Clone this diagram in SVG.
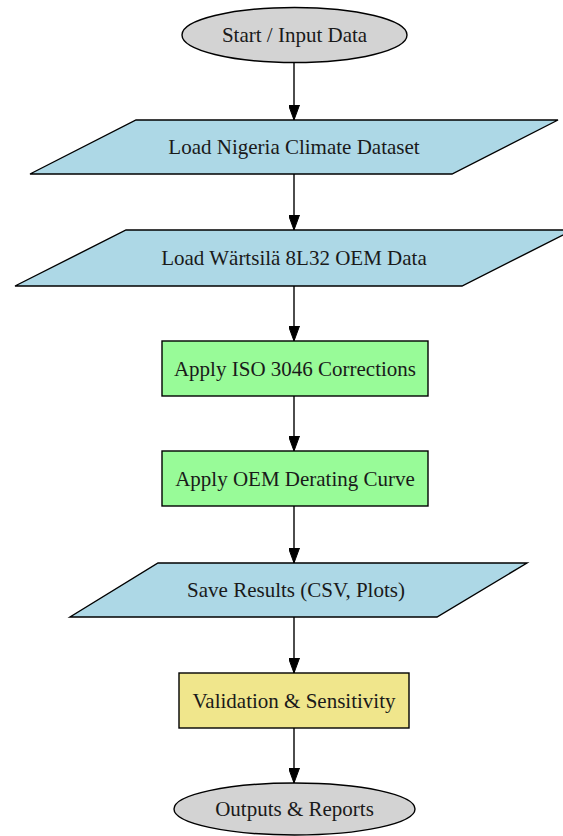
<svg xmlns="http://www.w3.org/2000/svg" width="563" height="836" viewBox="0 0 563 836">
  <style>
    .shape { stroke: #000; stroke-width: 1.4; }
    .term { fill: #d3d3d3; }
    .io { fill: #add8e6; }
    .proc { fill: #98fb98; }
    .check { fill: #f0e68c; }
    .label { font-family: "Liberation Serif", "Times New Roman", serif; font-size: 21px; fill: #1a1a1a; text-anchor: middle; }
    .edge { stroke: #000; stroke-width: 1.4; fill: none; }
  </style>
  <defs>
    <marker id="arrow" markerWidth="15" markerHeight="11" refX="15" refY="5.5" orient="auto" markerUnits="userSpaceOnUse">
      <path d="M0,0 L15,5.5 L0,11 Z" fill="#000" stroke="#000" stroke-width="1"/>
    </marker>
  </defs>
  <rect width="563" height="836" fill="#fff"/>

  <g id="connectors">
    <line class="edge" x1="294" y1="63" x2="294" y2="120" marker-end="url(#arrow)"/>
    <line class="edge" x1="294" y1="174" x2="294" y2="230" marker-end="url(#arrow)"/>
    <line class="edge" x1="294" y1="286" x2="294" y2="341" marker-end="url(#arrow)"/>
    <line class="edge" x1="294" y1="396" x2="294" y2="451" marker-end="url(#arrow)"/>
    <line class="edge" x1="294" y1="506" x2="294" y2="563" marker-end="url(#arrow)"/>
    <line class="edge" x1="294" y1="617" x2="294" y2="673" marker-end="url(#arrow)"/>
    <line class="edge" x1="294" y1="728" x2="294" y2="783" marker-end="url(#arrow)"/>
  </g>

  <g id="start">
    <ellipse class="shape term" cx="294.5" cy="35" rx="112.5" ry="27.5"/>
    <text class="label" x="294.5" y="42">Start / Input Data</text>
  </g>

  <g id="load-climate">
    <polygon class="shape io" points="136,120 558,120 452,174 30,174"/>
    <text class="label" x="294" y="154">Load Nigeria Climate Dataset</text>
  </g>

  <g id="load-oem">
    <polygon class="shape io" points="126,230 573,230 462,286 15,286"/>
    <text class="label" x="294" y="265">Load Wärtsilä 8L32 OEM Data</text>
  </g>

  <g id="iso-corrections">
    <rect class="shape proc" x="162" y="341" width="266" height="55"/>
    <text class="label" x="295" y="375.5">Apply ISO 3046 Corrections</text>
  </g>

  <g id="oem-derating">
    <rect class="shape proc" x="162" y="451" width="266" height="55"/>
    <text class="label" x="295" y="485.5">Apply OEM Derating Curve</text>
  </g>

  <g id="save-results">
    <polygon class="shape io" points="158,563 527,563 437,617 70,617"/>
    <text class="label" x="296" y="597">Save Results (CSV, Plots)</text>
  </g>

  <g id="validation">
    <rect class="shape check" x="179" y="673" width="230" height="55"/>
    <text class="label" x="294" y="707.5">Validation &amp; Sensitivity</text>
  </g>

  <g id="outputs">
    <ellipse class="shape term" cx="294.5" cy="809" rx="120.5" ry="26"/>
    <text class="label" x="294.5" y="816">Outputs &amp; Reports</text>
  </g>
</svg>
